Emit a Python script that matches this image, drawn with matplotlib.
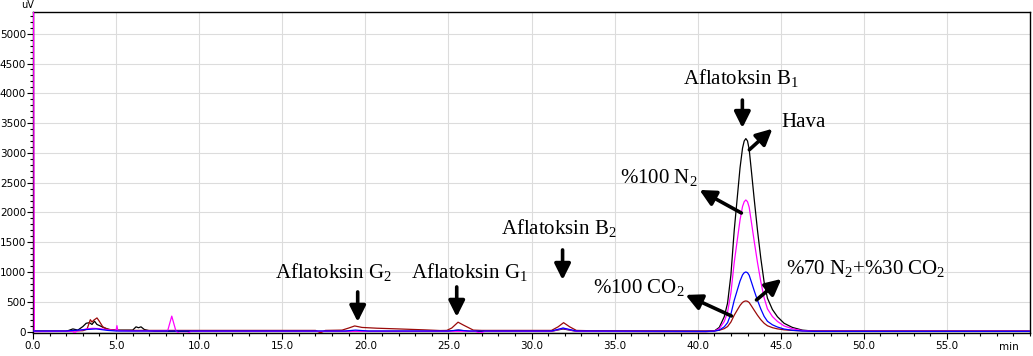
import matplotlib
matplotlib.use("Agg")
import matplotlib.pyplot as plt
from matplotlib.ticker import MultipleLocator, FixedLocator, FixedFormatter

plt.rcParams['mathtext.fontset'] = 'custom'
plt.rcParams['mathtext.rm'] = 'Liberation Serif'
plt.rcParams['mathtext.it'] = 'Liberation Serif:italic'

# ---------------- data (retention time in min, signal in uV) ----------------
t_hava = [0.0, 2.0, 2.4, 2.7, 3.0, 3.2, 3.4, 3.55, 3.7, 3.85, 4.05, 4.3, 4.6, 5.0,
          6.0, 6.2, 6.35, 6.5, 6.7, 7.0, 7.3, 12.0, 20.0, 24.9, 25.6, 26.3,
          31.2, 31.9, 32.7, 40.5, 41.0, 41.3, 41.6, 41.8, 42.0, 42.2, 42.4, 42.55,
          42.7, 42.8, 42.9, 43.0, 43.1, 43.25, 43.4, 43.6, 43.8, 44.0, 44.2, 44.5,
          44.8, 45.2, 45.7, 46.3, 47.0, 60.0]
y_hava = [5, 5, 45, 25, 85, 140, 150, 120, 175, 120, 95, 60, 35, 25,
          25, 80, 65, 80, 35, 15, 5, 5, 5, 5, 25, 5,
          5, 45, 5, 0, 10, 70, 250, 480, 950, 1700, 2300, 2750,
          3080, 3200, 3240, 3200, 3060, 2650, 2230, 1700, 1230, 830, 560, 370,
          250, 140, 70, 25, 8, 5]

t_n2 = [0.0, 0.03, 0.08, 2.0, 2.4, 2.5, 2.6, 3.2, 3.6, 4.0, 4.5, 5.0, 5.05, 5.1,
        5.15, 6.0, 8.1, 8.35, 8.6, 8.8, 8.9, 9.3, 9.5, 12.0, 26.6, 26.9, 27.2,
        31.2, 31.9, 32.7, 40.5, 41.0, 41.3, 41.6, 41.8, 42.0, 42.2, 42.4, 42.55,
        42.7, 42.8, 42.9, 43.0, 43.1, 43.25, 43.4, 43.6, 43.8, 44.0, 44.2, 44.5,
        44.8, 45.2, 45.7, 46.3, 47.0, 60.0]
y_n2 = [6000, 6000, 0, 5, 5, -30, 5, 45, 55, 50, 30, 20, 100, 20,
        15, 10, 10, 260, 10, -30, -30, -30, 5, 5, 5, -25, 5,
        5, 55, 5, 0, 7, 48, 170, 327, 648, 1160, 1570, 1875,
        2100, 2180, 2210, 2180, 2087, 1807, 1521, 1160, 839, 566, 382, 252,
        171, 95, 48, 17, 5, 5]

t_mix = [0.0, 2.0, 3.2, 3.8, 4.5, 5.0, 12.0, 18.8, 19.4, 20.2, 25.0, 25.6, 26.2,
         31.2, 31.9, 32.7, 40.5, 41.0, 41.3, 41.6, 41.8, 42.0, 42.2, 42.4, 42.55,
         42.7, 42.8, 42.9, 43.0, 43.1, 43.25, 43.4, 43.6, 43.8, 44.0, 44.2, 44.5,
         44.8, 45.2, 45.7, 46.3, 47.0, 60.0]
y_mix = [10, 10, 35, 45, 20, 10, 10, 10, 25, 10, 10, 25, 10,
         10, 60, 10, 5, 8, 25, 80, 150, 295, 525, 711, 850,
         952, 989, 1001, 989, 946, 819, 689, 525, 380, 256, 173, 114,
         77, 43, 22, 10, 5, 5]

t_co2 = [0.0, 2.0, 3.0, 3.25, 3.45, 3.55, 3.65, 3.85, 4.0, 4.2, 4.5, 5.0, 7.0, 12.0,
         17.0, 17.3, 17.6, 18.6, 19.0, 19.36, 19.8, 20.7, 22.0, 23.5, 24.5, 24.9,
         25.2, 25.58, 25.9, 26.5, 27.0, 31.2, 31.6, 31.93, 32.3, 32.7, 33.5, 40.5,
         41.0, 41.3, 41.6, 41.8, 42.0, 42.2, 42.4, 42.55, 42.7, 42.8, 42.9, 43.0,
         43.1, 43.25, 43.4, 43.6, 43.8, 44.0, 44.2, 44.5, 44.8, 45.2, 45.7, 46.3,
         47.0, 60.0]
y_co2 = [10, 10, 15, 40, 200, 160, 190, 230, 170, 80, 40, 20, 20, 20,
         20, -20, 20, 25, 60, 95, 70, 57, 45, 30, 18, 20,
         60, 158, 110, 25, 20, 20, 80, 150, 80, 20, 15, 12,
         14, 22, 50, 85, 160, 275, 370, 440, 490, 508, 515, 508,
         488, 425, 360, 275, 200, 140, 98, 66, 46, 30, 20, 14,
         12, 12]

x_ticks = [0, 5, 10, 15, 20, 25, 30, 35, 40, 45, 50, 55]
x_tick_labels = ["0.0", "5.0", "10.0", "15.0", "20.0", "25.0", "30.0", "35.0",
                 "40.0", "45.0", "50.0", "55.0"]
y_ticks = [0, 500, 1000, 1500, 2000, 2500, 3000, 3500, 4000, 4500, 5000]
y_tick_labels = ["0", "500", "1000", "1500", "2000", "2500", "3000", "3500",
                 "4000", "4500", "5000"]

# ---------------- figure ----------------
fig = plt.figure(figsize=(10.33, 3.56), dpi=100)
ax = fig.add_axes([33 / 1033, 23.5 / 356, 997 / 1033, 320.5 / 356])

ax.plot(t_hava, y_hava, color='black', lw=0.9, zorder=3)
ax.plot(t_co2, y_co2, color='#9a0a0a', lw=0.9, zorder=4)
ax.plot(t_n2, y_n2, color='#ff00ff', lw=0.9, zorder=5)
ax.plot(t_mix, y_mix, color='#0000ff', lw=0.9, zorder=6)

ax.set_xlim(0, 60)
ax.set_ylim(-15, 5365)

ax.xaxis.set_major_locator(FixedLocator(x_ticks))
ax.xaxis.set_major_formatter(FixedFormatter(x_tick_labels))
ax.xaxis.set_minor_locator(MultipleLocator(1))
ax.yaxis.set_major_locator(FixedLocator(y_ticks))
ax.yaxis.set_major_formatter(FixedFormatter(y_tick_labels))
ax.yaxis.set_minor_locator(MultipleLocator(100))

ax.tick_params(axis='both', which='major', direction='out', length=4, width=0.8,
               labelsize=7.5, colors='black', pad=2)
ax.tick_params(axis='both', which='minor', direction='out', length=2.5, width=0.8)
ax.tick_params(axis='y', pad=1)

ax.grid(True, which='major', color='#dcdcdc', lw=0.8, zorder=0)
ax.set_axisbelow(True)
for s in ax.spines.values():
    s.set_color('black')
    s.set_linewidth(1.0)

fig.text(28 / 1033, 1 - 5 / 356, "uV", fontsize=7, ha='center', va='center')
fig.text(1019 / 1033, 1 - 347 / 356, "min", fontsize=7.5, ha='right', va='center')

# ---------------- annotations ----------------
fs = 15
tkw = dict(fontsize=fs, family='Liberation Serif', color='black')
akw = dict(arrowstyle='-|>', color='black', lw=2.6, mutation_scale=24,
           shrinkA=0, shrinkB=0)

def arrow(x0, y0, x1, y1):
    ax.annotate('', xy=(x1, y1), xytext=(x0, y0), arrowprops=akw, zorder=10)

ax.text(42.63, 4254, r'Aflatoksin B$_\mathrm{1}$', ha='center', va='center', **tkw)
arrow(42.69, 3887, 42.69, 3418)

ax.text(45.04, 3502, 'Hava', ha='left', va='center', **tkw)
arrow(43.11, 3053, 44.50, 3405)

ax.text(39.99, 2579, r'%100 N$_\mathrm{2}$', ha='right', va='center', **tkw)
arrow(42.63, 1991, 40.11, 2378)

ax.text(45.34, 1051, r'%70 N$_\mathrm{2}$+%30 CO$_\mathrm{2}$', ha='left', va='center', **tkw)
arrow(43.54, 532, 45.04, 884)

ax.text(39.21, 733, r'%100 CO$_\mathrm{2}$', ha='right', va='center', **tkw)
arrow(42.03, 263, 39.27, 616)

ax.text(31.63, 1740, r'Aflatoksin B$_\mathrm{2}$', ha='center', va='center', **tkw)
arrow(31.87, 1371, 31.87, 867)

ax.text(18.07, 1002, r'Aflatoksin G$_\mathrm{2}$', ha='center', va='center', **tkw)
arrow(19.54, 666, 19.54, 163)

ax.text(26.28, 1002, r'Aflatoksin G$_\mathrm{1}$', ha='center', va='center', **tkw)
arrow(25.50, 750, 25.50, 247)

fig.savefig('out.png', dpi=100)
